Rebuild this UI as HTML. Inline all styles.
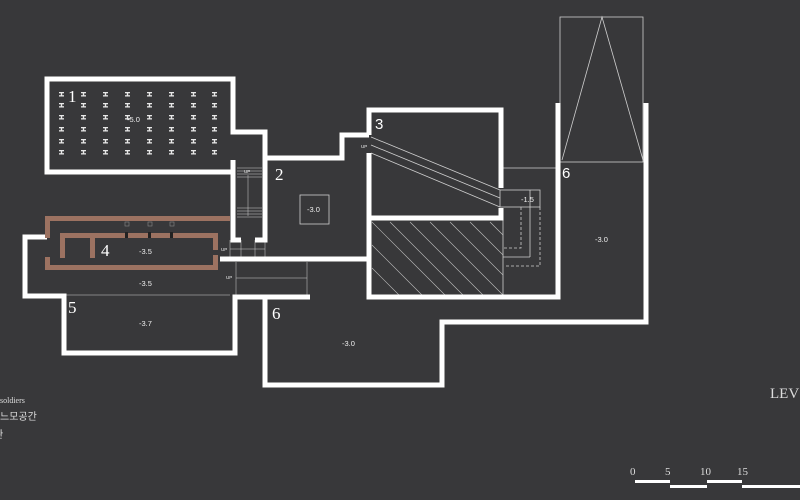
<!DOCTYPE html><html><head><meta charset="utf-8"><style>html,body{margin:0;padding:0;background:#38383a}svg{display:block}</style></head><body>
<svg width="800" height="500" xmlns="http://www.w3.org/2000/svg" font-family="Liberation Sans, sans-serif">
<rect width="800" height="500" fill="#38383a"/>
<g fill="none" stroke="#cfcfcf" stroke-width="0.8">
<rect x="560" y="17" width="83" height="145"/>
<polyline points="562,160 602,17 643,160"/>
<line x1="503" y1="168" x2="558" y2="168"/>
<line x1="371" y1="137" x2="500" y2="190"/><line x1="371" y1="145" x2="500" y2="198"/><line x1="371" y1="153" x2="500" y2="207"/>
<rect x="500" y="190" width="40" height="17"/>
<line x1="530" y1="190" x2="530" y2="257"/><line x1="503" y1="257" x2="530" y2="257"/>
<polyline points="521,207 521,248 504,248" stroke-dasharray="3,2"/>
<polyline points="540,207 540,266 504,266" stroke-dasharray="3,2"/>
<line x1="503" y1="218" x2="503" y2="295"/>
<rect x="300" y="195" width="29" height="29"/>
<g stroke-width="0.5"><line x1="237" y1="168" x2="262" y2="168"/><line x1="237" y1="171" x2="262" y2="171"/><line x1="237" y1="174" x2="262" y2="174"/><line x1="237" y1="177" x2="262" y2="177"/>
<line x1="237" y1="208" x2="262" y2="208"/><line x1="237" y1="211" x2="262" y2="211"/><line x1="237" y1="214" x2="262" y2="214"/><line x1="237" y1="217" x2="262" y2="217"/>
<line x1="248" y1="175" x2="248" y2="216"/>
<line x1="230" y1="249" x2="265" y2="249"/><line x1="230" y1="240" x2="230" y2="258"/><line x1="241" y1="240" x2="241" y2="258"/><line x1="255" y1="240" x2="255" y2="258"/><line x1="265" y1="240" x2="265" y2="258"/>
<line x1="236" y1="278" x2="307" y2="278"/><line x1="236" y1="262" x2="236" y2="295"/><line x1="307" y1="262" x2="307" y2="295"/>
<line x1="25" y1="295" x2="230" y2="295"/></g>
</g>
<g stroke="#bfbfbf" stroke-width="0.6">
<line x1="372" y1="222" x2="447" y2="297"/><line x1="372" y1="245" x2="424" y2="297"/><line x1="372" y1="268" x2="401" y2="297"/>
<line x1="390" y1="222" x2="465" y2="297"/><line x1="410" y1="222" x2="485" y2="297"/><line x1="430" y1="222" x2="503" y2="295"/><line x1="450" y1="222" x2="503" y2="275"/><line x1="470" y1="222" x2="503" y2="255"/><line x1="490" y1="222" x2="503" y2="235"/>
</g>
<g fill="none" stroke="#fff" stroke-width="5">
<polyline points="233,160 233,172 47,172 47,79 233,79 233,132 265,132 265,240 255,240"/>
<polyline points="233,162 233,240 241,240"/>
<polyline points="265,158 342,158 342,135 369,135"/>
<polyline points="369,135 369,110 501,110 501,188"/><polyline points="369,153 369,297 558,297 558,103"/>
<polyline points="369,218 501,218 501,208"/>
<polyline points="220,259 369,259"/>
<polyline points="47,237 25,237 25,296 64,296 64,353 235,353 235,297 310,297"/>
<polyline points="265,297 265,385 442,385 442,322 646,322 646,103"/>
</g>
<g fill="#9c7261">
<rect x="45" y="216" width="185" height="5"/><rect x="45" y="216" width="5" height="22"/><rect x="45" y="257" width="5" height="13"/>
<rect x="45" y="265" width="173" height="5"/><rect x="60" y="233" width="158" height="5"/>
<rect x="60" y="233" width="5" height="25"/><rect x="90" y="233" width="5" height="25"/>
<rect x="213" y="233" width="5" height="17"/><rect x="213" y="255" width="5" height="15"/>
</g>
<g fill="#222"><rect x="125" y="232" width="3" height="6"/><rect x="148" y="232" width="3" height="6"/><rect x="170" y="232" width="3" height="6"/></g>
<g fill="none" stroke="#888" stroke-width="0.6"><rect x="125" y="222" width="4" height="4"/><rect x="148" y="222" width="4" height="4"/><rect x="170" y="222" width="4" height="4"/></g>
<defs><g id="h"><rect x="0" y="0" width="5" height="1.3"/><rect x="0" y="3.2" width="5" height="1.3"/><rect x="1.8" y="0" width="1.4" height="4.5"/></g>
<g id="cols" fill="#e8e8e8">
<use href="#h" x="59" y="92"/><use href="#h" x="81" y="92"/><use href="#h" x="103" y="92"/><use href="#h" x="125" y="92"/><use href="#h" x="147" y="92"/><use href="#h" x="169" y="92"/><use href="#h" x="191" y="92"/><use href="#h" x="212" y="92"/>
</g></defs>
<use href="#cols"/><use href="#cols" y="11"/><use href="#cols" y="23"/><use href="#cols" y="35"/><use href="#cols" y="47"/><use href="#cols" y="58"/>
<g fill="#fff" font-family="Liberation Serif, serif" font-size="17">
<text x="68" y="102">1</text><text x="275" y="180">2</text><text x="101" y="256">4</text><text x="68" y="313">5</text><text x="272" y="319">6</text>
</g>
<g fill="#fff" font-size="15"><text x="375" y="129">3</text><text x="562" y="178">6</text></g>
<g fill="#eee" font-size="7.5">
<text x="127" y="122">-5.0</text><text x="307" y="212">-3.0</text><text x="139" y="254">-3.5</text><text x="139" y="286">-3.5</text><text x="139" y="326">-3.7</text><text x="342" y="346">-3.0</text><text x="521" y="202">-1.5</text><text x="595" y="242">-3.0</text>
</g>
<g fill="#eee" font-size="4.5"><text x="244" y="173">UP</text><text x="221" y="251">UP</text><text x="226" y="279">UP</text><text x="361" y="148">UP</text></g>
<g fill="#ddd" font-family="Liberation Serif, 'Noto Serif CJK SC', serif">
<text x="0" y="403" font-size="8">soldiers</text>
<text x="0" y="420" font-size="10" font-family="Liberation Sans, 'Noto Sans CJK KR', sans-serif">느모공간</text>
<text x="-6" y="438" font-size="10" font-family="Liberation Sans, 'Noto Sans CJK KR', sans-serif">관</text>
<text x="770" y="398" font-size="15">LEV</text>
<g font-size="11"><text x="630" y="475">0</text><text x="665" y="475">5</text><text x="700" y="475">10</text><text x="737" y="475">15</text></g>
</g>
<g fill="#fff"><rect x="635" y="480" width="35" height="3"/><rect x="670" y="485" width="37" height="3"/><rect x="707" y="480" width="35" height="3"/><rect x="742" y="485" width="58" height="3"/></g>
</svg>
</body></html>
